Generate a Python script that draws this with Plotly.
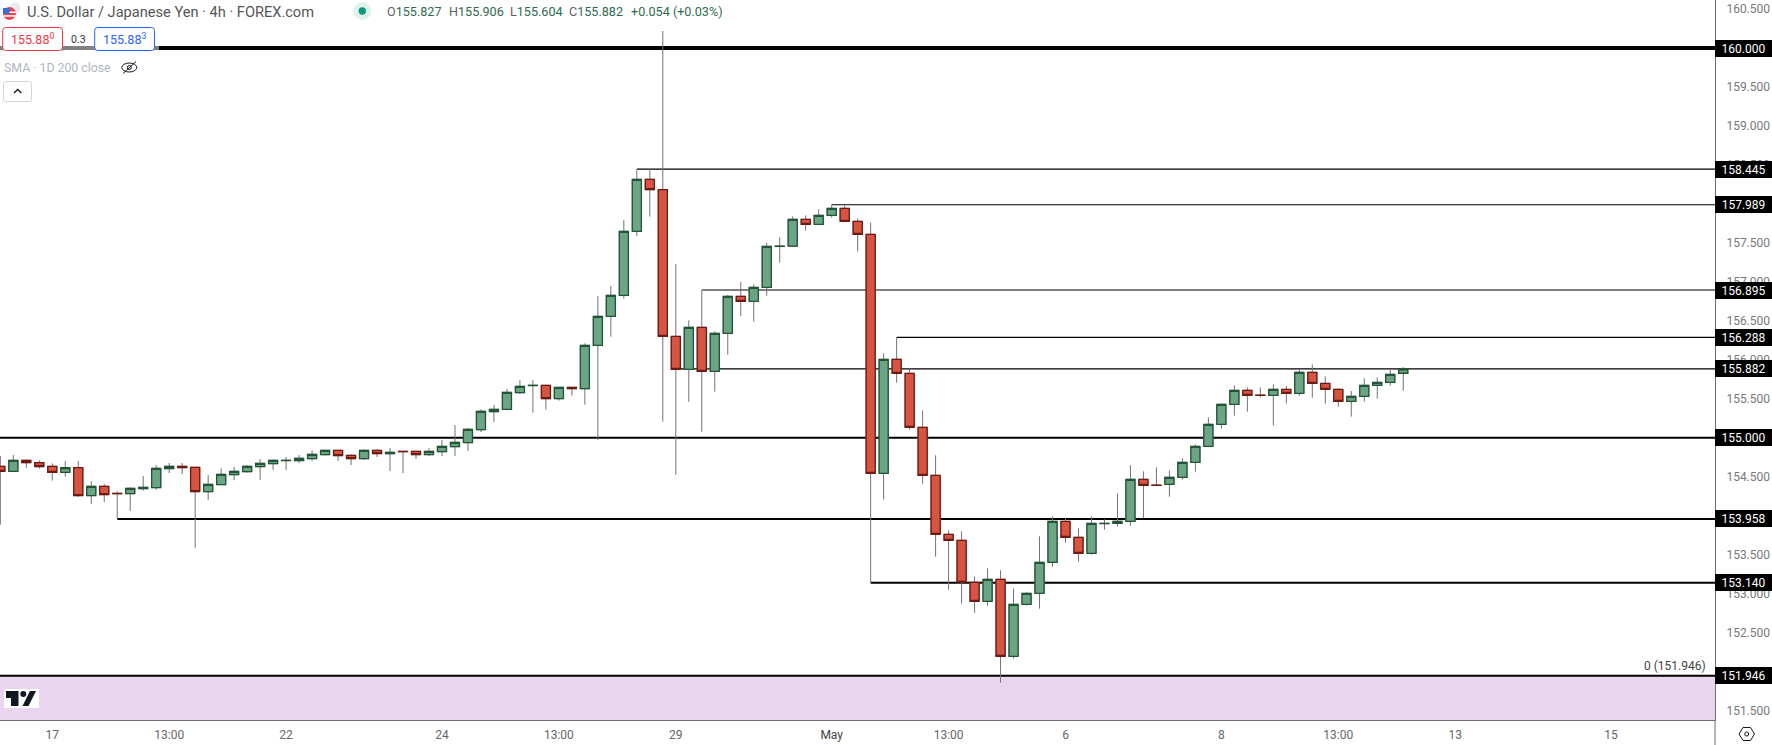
import plotly.graph_objects as go

opens = [154.633,154.569,154.710,154.680,154.633,154.556,154.616,154.257,154.376,154.286,154.282,154.346,154.359,154.603,154.633,154.620,154.308,154.398,154.526,154.564,154.629,154.667,154.706,154.706,154.731,154.783,154.838,154.774,154.731,154.838,154.795,154.825,154.825,154.783,154.821,154.885,154.937,155.103,155.334,
155.364,155.578,155.670,155.672,155.501,155.646,155.629,156.185,156.557,156.827,157.648,158.315,158.182,156.300,155.877,156.416,155.851,156.339,156.814,156.750,156.929,157.455,157.457,157.802,157.738,157.853,157.943,157.776,
157.609,154.543,156.006,155.826,155.133,154.517,153.760,153.683,153.144,152.901,153.183,152.195,152.862,153.003,153.401,153.927,153.722,153.516,153.899,153.901,153.927,154.466,154.391,154.402,154.492,154.684,154.889,
155.171,155.428,155.608,155.545,155.543,155.620,155.569,155.839,155.697,155.620,155.466,155.531,155.672,155.710,155.827]
closes = [154.569,154.710,154.680,154.629,154.556,154.616,154.257,154.376,154.269,154.282,154.351,154.363,154.607,154.633,154.616,154.308,154.402,154.530,154.569,154.633,154.671,154.710,154.710,154.736,154.787,154.838,154.770,154.731,154.838,154.795,154.813,154.821,154.783,154.825,154.889,154.941,155.108,155.339,155.364,
155.582,155.659,155.672,155.501,155.646,155.629,156.185,156.557,156.827,157.648,158.315,158.182,156.300,155.877,156.416,155.851,156.339,156.814,156.750,156.929,157.455,157.457,157.802,157.738,157.853,157.943,157.776,157.609,
154.543,156.006,155.826,155.133,154.517,153.760,153.683,153.144,152.901,153.183,152.195,152.862,153.003,153.401,153.927,153.722,153.516,153.901,153.901,153.927,154.466,154.389,154.389,154.492,154.684,154.889,155.172,
155.428,155.608,155.543,155.543,155.620,155.569,155.839,155.697,155.620,155.466,155.531,155.672,155.710,155.813,155.882]
highs = [154.765,154.778,154.723,154.710,154.671,154.701,154.701,154.445,154.406,154.312,154.363,154.509,154.650,154.676,154.676,154.620,154.522,154.607,154.624,154.646,154.727,154.723,154.753,154.778,154.838,154.838,154.838,154.787,154.851,154.851,154.868,154.825,154.825,154.864,154.971,155.163,155.125,155.364,155.420,
155.625,155.740,155.740,155.672,155.646,155.646,156.211,156.818,156.946,157.793,158.445,158.445,160.218,157.229,156.506,156.895,156.365,156.831,156.998,156.968,157.498,157.571,157.840,157.853,157.930,157.989,157.981,157.815,
157.763,156.083,156.288,155.890,155.351,154.774,153.811,153.799,153.221,153.324,153.298,153.067,153.016,153.734,153.991,153.965,153.837,153.991,153.953,154.286,154.646,154.569,154.620,154.581,154.735,154.915,155.261,
155.441,155.672,155.646,155.646,155.685,155.663,155.877,155.941,155.787,155.633,155.599,155.762,155.774,155.877,155.906]
lows = [153.884,154.569,154.611,154.603,154.449,154.500,154.244,154.150,154.175,153.958,154.060,154.321,154.329,154.547,154.535,153.589,154.201,154.398,154.458,154.552,154.458,154.586,154.586,154.676,154.701,154.770,154.701,154.650,154.714,154.753,154.573,154.547,154.727,154.765,154.765,154.765,154.830,155.073,155.202,
155.364,155.561,155.321,155.360,155.475,155.539,155.424,154.970,156.296,156.784,157.588,157.836,155.206,154.525,155.462,155.077,155.590,156.065,156.561,156.489,156.822,157.246,157.455,157.656,157.738,157.823,157.776,157.387,
153.140,154.205,155.706,155.103,154.410,153.474,153.050,152.871,152.755,152.845,151.857,152.165,152.845,152.807,153.345,153.653,153.409,153.499,153.820,153.859,153.871,153.965,154.385,154.243,154.462,154.564,154.889,
155.116,155.283,155.334,155.518,155.154,155.437,155.539,155.513,155.437,155.398,155.270,155.462,155.501,155.667,155.604]
bar_index = list(range(len(opens)))

tick_positions = [4,13,22,34,43,52,64,73,82,94,103,112,124]
tick_labels = ["17","13:00","22","24","13:00","29",'<span style="color:#3f3f3f">May</span>',"13:00","6","8","13:00","13","15"]
price_ticks = [151.5,152.0,152.5,153.0,153.5,154.0,154.5,155.0,155.5,156.0,156.5,157.0,157.5,158.0,158.5,159.0,159.5,160.0,160.5]

level_prices = [160.000,158.445,157.989,156.895,156.288,155.882,155.000,153.958,153.140,151.946]
level_labels = ["160.000","158.445","157.989","156.895","156.288","155.882","155.000","153.958","153.140","151.946"]
level_start = [-1,49,64,54,69,52,-1,9,67,-1]
level_width = [4,1.2,1.2,1.2,1.2,1.2,2,2,2,2]

PLOT_W, PLOT_H = 1715, 720
X_RANGE = [-0.025, 132.0]
Y_RANGE = [151.378, 160.616]
FONT = "Roboto"
AXIS_GREY = "#6f6f6f"

def px(x): return x / PLOT_W
def py(y): return 1 - y / PLOT_H

def rrect(x0, y0, x1, y1, r, fill, line, lw=1):
    X0, X1, Y0, Y1 = px(x0), px(x1), py(y0), py(y1)
    rx, ry = r / PLOT_W, r / PLOT_H
    path = (f"M{X0+rx},{Y0} L{X1-rx},{Y0} Q{X1},{Y0} {X1},{Y0-ry} L{X1},{Y1+ry} Q{X1},{Y1} {X1-rx},{Y1} "
            f"L{X0+rx},{Y1} Q{X0},{Y1} {X0},{Y1+ry} L{X0},{Y0-ry} Q{X0},{Y0} {X0+rx},{Y0} Z")
    return dict(type="path", xref="paper", yref="paper", path=path, fillcolor=fill, line=dict(color=line, width=lw))

def poly(points, fill=None, line=None, lw=1, close=True):
    s = "M" + " L".join(f"{px(a)},{py(b)}" for a, b in points) + (" Z" if close else "")
    return dict(type="path", xref="paper", yref="paper", path=s, fillcolor=fill or "rgba(0,0,0,0)",
                line=dict(color=line or "rgba(0,0,0,0)", width=lw))

def circ(cx, cy, rx, ry, fill, line=None, lw=1):
    return dict(type="circle", xref="paper", yref="paper", x0=px(cx-rx), x1=px(cx+rx), y0=py(cy+ry), y1=py(cy-ry),
                fillcolor=fill, line=dict(color=line or "rgba(0,0,0,0)", width=lw))

def box(x0, x1, y0, y1, fill):
    return dict(type="rect", xref="paper", yref="paper", x0=px(x0), x1=px(x1), y0=py(y1), y1=py(y0), fillcolor=fill, line=dict(width=0))

def text(x, y, s, size=12, color="#000", anchor="left", family=FONT):
    return dict(xref="paper", yref="paper", x=px(x), y=py(y), text=s, showarrow=False, xanchor=anchor, yanchor="middle",
                font=dict(family=family, size=size, color=color), borderpad=0)

fig = go.Figure()

# wicks
fig.add_trace(go.Candlestick(x=bar_index, open=opens, high=highs, low=lows, close=closes, whiskerwidth=0,
    increasing=dict(line=dict(color="#737375", width=1), fillcolor="#737375"),
    decreasing=dict(line=dict(color="#737375", width=1), fillcolor="#737375"),
    hoverinfo="skip", showlegend=False))
# bodies
fig.add_trace(go.Candlestick(x=bar_index, open=opens, close=closes,
    high=[max(a, b) for a, b in zip(opens, closes)], low=[min(a, b) for a, b in zip(opens, closes)], whiskerwidth=0,
    increasing=dict(line=dict(color="#225437", width=1.3), fillcolor="#6ba583"),
    decreasing=dict(line=dict(color="#6e1a12", width=1.3), fillcolor="#d75442"),
    hoverinfo="skip", showlegend=False))

shapes = []
shapes.append(dict(type="rect", xref="paper", yref="y", x0=0, x1=1, y0=Y_RANGE[0], y1=level_prices[-1],
                   fillcolor="#ead5f0", line=dict(width=0), layer="below"))
for p, start, w in zip(level_prices, level_start, level_width):
    shapes.append(dict(type="line", xref="x", yref="y", x0=start, x1=X_RANGE[1], y0=p, y1=p,
                       line=dict(color="#000000", width=w), layer="below"))

shapes.append(dict(type="line", xref="paper", yref="paper", x0=1, x1=1, y0=0, y1=py(745), line=dict(color=AXIS_GREY, width=1)))

# bid/ask widget
shapes.append(box(0, 159, 46, 50, "#808080"))
shapes.append(rrect(2.7, 27.5, 62.5, 50.5, 3, "#ffffff", "#f23645", 1))
shapes.append(rrect(94.7, 27.5, 154.5, 50.5, 3, "#ffffff", "#2962ff", 1))
# collapse button
shapes.append(rrect(3.5, 81.5, 31.5, 101.5, 2, "#ffffff", "#d1d4dc", 1))
shapes.append(poly([(14, 93), (17.7, 89.5), (21.4, 93)], line="#131722", lw=1.3, close=False))
# eye
shapes.append(circ(129.3, 67.5, 7.5, 4.5, "rgba(0,0,0,0)", "#131722", 1))
shapes.append(circ(129.3, 67.5, 2, 2, "rgba(0,0,0,0)", "#131722", 1))
shapes.append(poly([(123, 73.5), (136, 61.5)], line="#131722", lw=1, close=False))
# status dot
shapes.append(circ(362.3, 11, 9, 9, "#dff2ee"))
shapes.append(circ(362.3, 11, 3.7, 3.7, "#089981"))
# flag
shapes.append(circ(15, 8, 5.5, 5.5, "#e8ebf3"))
shapes.append(circ(9.5, 13.5, 6.5, 6.5, "#f0424a"))
shapes.append(box(3, 16, 11.5, 13, "#ffffff"))
shapes.append(box(3.2, 15.8, 15.2, 16.7, "#ffffff"))
shapes.append(box(3, 9.5, 8, 14, "#3a6fd8"))
# TradingView mark
shapes.append(box(4, 39, 689, 708, "#ffffff"))
shapes.append(poly([(6, 691), (18.5, 691), (18.5, 706), (11, 706), (11, 698), (6, 698)], fill="#131722"))
shapes.append(circ(23.3, 694, 3, 3, "#131722"))
shapes.append(poly([(30, 691), (36, 691), (28.5, 706), (22.5, 706)], fill="#131722"))
# settings icon
shapes.append(poly([(1739, 734), (1743, 727.5), (1750.5, 727.5), (1754.5, 734), (1750.5, 740.5), (1743, 740.5)], line="#131722", lw=1))
shapes.append(circ(1746.7, 734, 2, 2, "rgba(0,0,0,0)", "#131722", 1))

DARK_GREEN = "#2f6b4f"
LBL = "#5d606b"
def ohlc(letter, value):
    return f'<span style="color:{LBL}">{letter}</span><span style="color:{DARK_GREEN}">{value}</span>'

annotations = [
    text(25.7, 12, "U.S. Dollar / Japanese Yen · 4h · FOREX.com", 14.6, "#555555"),
    text(386, 11.5, ohlc("O", "155.827"), 12.6),
    text(448, 11.5, ohlc("H", "155.906"), 12.6),
    text(509, 11.5, ohlc("L", "155.604"), 12.6),
    text(568, 11.5, ohlc("C", "155.882"), 12.6),
    text(629.7, 11.5, "+0.054 (+0.03%)", 12.6, DARK_GREEN),
    text(32.3, 39, "155.88<sup>0</sup>", 12.5, "#f23645", "center"),
    text(78, 39, "0.3", 10.5, "#333333", "center"),
    text(124.3, 39, "155.88<sup>3</sup>", 12.5, "#2962ff", "center"),
    text(3, 67.5, "SMA · 1D 200 close", 12.3, "#b2b5be"),
    text(1675, 666, "0 (151.946)", 12, "#444444", "center"),
]
for p, lab in zip(level_prices, level_labels):
    annotations.append(dict(xref="paper", yref="y", x=1, y=p, xanchor="left", yanchor="middle", text=lab, showarrow=False,
                            width=57, height=17, bgcolor="#000000", align="center", borderpad=0, borderwidth=0,
                            font=dict(family=FONT, size=12, color="#ffffff")))

fig.update_layout(
    width=1772, height=745, autosize=False, boxmode="overlay", boxgap=0.3, boxgroupgap=0,
    margin=dict(l=0, r=57, t=0, b=25, pad=0),
    paper_bgcolor="#ffffff", plot_bgcolor="#ffffff",
    showlegend=False, hovermode=False,
    font=dict(family=FONT, size=12, color="#666666"),
    shapes=shapes, annotations=annotations,
    xaxis=dict(range=X_RANGE, rangeslider=dict(visible=False), showgrid=False, zeroline=False,
               tickmode="array", tickvals=tick_positions, ticktext=tick_labels, ticks="", ticklabelstandoff=4,
               showline=True, linecolor=AXIS_GREY, linewidth=1, tickfont=dict(size=12, color="#666666")),
    yaxis=dict(range=Y_RANGE, side="right", showgrid=False, zeroline=False,
               tickmode="array", tickvals=price_ticks, ticktext=[f"{v:.3f}" for v in price_ticks], ticks="", ticklabelstandoff=8,
               showline=True, linecolor=AXIS_GREY, linewidth=1, tickfont=dict(size=12, color="#787878")),
)

fig.write_html("out.html", config=dict(displayModeBar=False, staticPlot=True),
               post_script="document.body.style.margin='0';document.body.style.overflow='hidden';")
